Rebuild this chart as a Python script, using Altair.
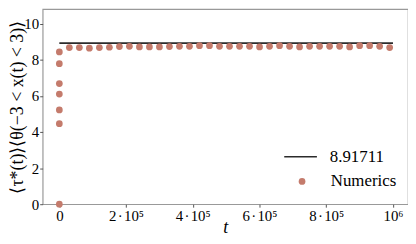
import altair as alt
import pandas as pd

# Early-time numerics (all plotted at t = 0)
t_early = [0, 0, 0, 0, 0, 0, 0]
y_early = [0.0, 4.46, 5.22, 6.10, 6.68, 7.78, 8.43]

# Plateau numerics
t_plateau = [30000, 60000, 90000, 120000, 150000, 180000, 210000, 240000, 270000,
             300000, 330000, 360000, 390000, 420000, 450000, 480000, 510000,
             540000, 570000, 600000, 630000, 660000, 690000, 720000, 750000,
             780000, 810000, 840000, 870000, 900000, 930000, 960000, 990000]
y_plateau = [8.67, 8.67, 8.64, 8.67, 8.69, 8.73, 8.74, 8.71, 8.71, 8.71, 8.73,
             8.74, 8.74, 8.78, 8.78, 8.74, 8.74, 8.74, 8.74, 8.71, 8.74, 8.78,
             8.74, 8.71, 8.74, 8.74, 8.74, 8.74, 8.71, 8.78, 8.78, 8.74, 8.67]

# Theory line
line_value = 8.91711
line_t = [0, 1000000]
line_label = "8.91711"
points_label = "Numerics"

x_ticks = [0, 200000, 400000, 600000, 800000, 1000000]
y_ticks = [0, 2, 4, 6, 8, 10]

W, H = 369, 197
SERIF = "Liberation Serif"
PT_COLOR = "#c47b6c"
LINE_COLOR = "#2b2b2b"

pts = pd.DataFrame({"t": t_early + t_plateau, "y": y_early + y_plateau})
ln = pd.DataFrame({"t": line_t, "y": [line_value] * len(line_t)})

xscale = alt.Scale(domain=[-50000, 1045000], nice=False, zero=False)
yscale = alt.Scale(domain=[0, 10.8], nice=False)

xaxis = alt.Axis(
    values=x_ticks,
    labelExpr="datum.value == 0 ? '0' : datum.value == 1000000 ? '10⁶' : (datum.value/100000) + '\u200a·\u200a10⁵'",
    title="t", titleFontStyle="italic", titleFont=SERIF, titleFontSize=18,
    titleFontWeight="normal", titleY=24, titleBaseline="middle", titleColor="black",
    labelFont=SERIF, labelFontSize=15, labelColor="black", labelPadding=1,
    labelOverlap=False, labelFlush=False,
    tickSize=3, tickColor="#555", domain=False, grid=False,
)
yaxis = alt.Axis(
    values=y_ticks, format="d",
    title="⟨τ*(t)⟩⟨θ(−3 < x(t) < 3)⟩", titleFont=SERIF, titleFontSize=18,
    titleFontWeight="normal", titleX=-25, titleY=H / 2, titleAngle=-90,
    titleBaseline="middle", titleAlign="center", titleColor="black",
    labelFont=SERIF, labelFontSize=15, labelColor="black", labelPadding=1,
    labelOverlap=False, labelFlush=False,
    tickSize=3, tickColor="#555", domain=False, grid=False,
)

line = alt.Chart(ln).mark_line(color=LINE_COLOR, strokeWidth=1.6).encode(
    x=alt.X("t:Q", scale=xscale, axis=xaxis),
    y=alt.Y("y:Q", scale=yscale, axis=yaxis),
)
points = alt.Chart(pts).mark_circle(color=PT_COLOR, size=46, opacity=1).encode(
    x=alt.X("t:Q", scale=xscale, axis=xaxis),
    y=alt.Y("y:Q", scale=yscale, axis=yaxis),
)

leg = pd.DataFrame({"label": [line_label, points_label]})
leg_line = alt.Chart(leg.iloc[:1]).mark_rule(color=LINE_COLOR, strokeWidth=1.6).encode(
    x=alt.value(244), x2=alt.value(277), y=alt.value(149)
)
leg_pt = alt.Chart(leg.iloc[1:]).mark_circle(color=PT_COLOR, size=46, opacity=1).encode(
    x=alt.value(262), y=alt.value(174)
)
leg_text1 = alt.Chart(leg.iloc[:1]).mark_text(
    font=SERIF, fontSize=17, align="left", baseline="middle", color="black"
).encode(x=alt.value(290), y=alt.value(149), text="label:N")
leg_text2 = alt.Chart(leg.iloc[1:]).mark_text(
    font=SERIF, fontSize=17, align="left", baseline="middle", color="black"
).encode(x=alt.value(291), y=alt.value(174), text="label:N")

chart = alt.layer(line, points, leg_line, leg_pt, leg_text1, leg_text2).properties(
    width=W, height=H,
    autosize=alt.AutoSizeParams(type="none"),
    padding={"left": 35, "top": 0, "right": 0, "bottom": 36},
).configure_view(stroke="#999", strokeWidth=1.2)

chart.save("out.html", embed_options={"renderer": "svg", "actions": False})
